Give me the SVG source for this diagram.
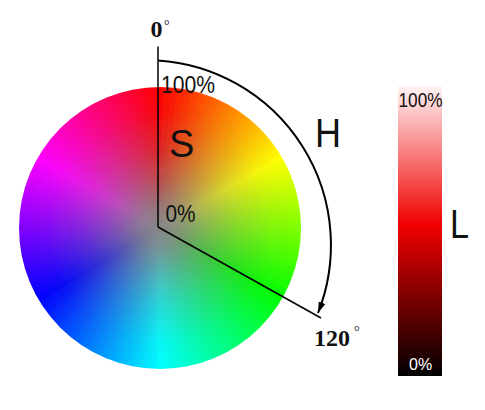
<svg xmlns="http://www.w3.org/2000/svg" width="485" height="410" viewBox="0 0 485 410">
<style>
.sans{font-family:"Liberation Sans",Arial,sans-serif;fill:#111}
.deg{font-family:"Liberation Serif","Times New Roman",serif;font-weight:bold;font-size:24px;fill:#111}
.degs{font-size:14px;font-weight:normal}
.ln{stroke:#000;fill:none;stroke-width:1.5}
.arc{stroke:#000;fill:none;stroke-width:2}
</style>
<defs>
<path id="w" d="M0,0L-4.6,-155L4.6,-155Z"/>
<clipPath id="cc"><circle cx="0" cy="0" r="141"/></clipPath>
<filter id="bl" x="-0.1" y="-0.1" width="1.2" height="1.2"><feGaussianBlur stdDeviation="1.5"/></filter>
<radialGradient id="sat" cx="0" cy="0" r="141" gradientUnits="userSpaceOnUse">
<stop offset="0" stop-color="#858585" stop-opacity="1"/>
<stop offset="0.15" stop-color="#858585" stop-opacity="0.85"/>
<stop offset="0.35" stop-color="#858585" stop-opacity="0.55"/>
<stop offset="0.55" stop-color="#858585" stop-opacity="0.3"/>
<stop offset="0.8" stop-color="#858585" stop-opacity="0.08"/>
<stop offset="1" stop-color="#858585" stop-opacity="0"/>
</radialGradient>
<linearGradient id="lg" x1="0" y1="0" x2="0" y2="1">
<stop offset="0" stop-color="#fff4f4"/>
<stop offset="0.48" stop-color="#f00000"/>
<stop offset="1" stop-color="#000"/>
</linearGradient>
<marker id="ah" markerUnits="userSpaceOnUse" markerWidth="12" markerHeight="8" refX="11" refY="4" orient="auto">
<path d="M0,0.5L11,4L0,7.5Z" fill="#000"/>
</marker>
</defs>

<g id="hue-wheel">
<g transform="translate(160,228)" clip-path="url(#cc)">
<g filter="url(#bl)">
<use href="#w" transform="rotate(0)" fill="hsl(0,100%,50%)"/>
<use href="#w" transform="rotate(3)" fill="hsl(3,100%,50%)"/>
<use href="#w" transform="rotate(6)" fill="hsl(6,100%,50%)"/>
<use href="#w" transform="rotate(9)" fill="hsl(9,100%,50%)"/>
<use href="#w" transform="rotate(12)" fill="hsl(12,100%,50%)"/>
<use href="#w" transform="rotate(15)" fill="hsl(15,100%,50%)"/>
<use href="#w" transform="rotate(18)" fill="hsl(18,100%,50%)"/>
<use href="#w" transform="rotate(21)" fill="hsl(21,100%,50%)"/>
<use href="#w" transform="rotate(24)" fill="hsl(24,100%,50%)"/>
<use href="#w" transform="rotate(27)" fill="hsl(27,100%,50%)"/>
<use href="#w" transform="rotate(30)" fill="hsl(30,100%,50%)"/>
<use href="#w" transform="rotate(33)" fill="hsl(33,100%,50%)"/>
<use href="#w" transform="rotate(36)" fill="hsl(36,100%,50%)"/>
<use href="#w" transform="rotate(39)" fill="hsl(39,100%,50%)"/>
<use href="#w" transform="rotate(42)" fill="hsl(42,100%,50%)"/>
<use href="#w" transform="rotate(45)" fill="hsl(45,100%,50%)"/>
<use href="#w" transform="rotate(48)" fill="hsl(48,100%,50%)"/>
<use href="#w" transform="rotate(51)" fill="hsl(51,100%,50%)"/>
<use href="#w" transform="rotate(54)" fill="hsl(54,100%,50%)"/>
<use href="#w" transform="rotate(57)" fill="hsl(57,100%,50%)"/>
<use href="#w" transform="rotate(60)" fill="hsl(60,100%,50%)"/>
<use href="#w" transform="rotate(63)" fill="hsl(63,100%,50%)"/>
<use href="#w" transform="rotate(66)" fill="hsl(66,100%,50%)"/>
<use href="#w" transform="rotate(69)" fill="hsl(69,100%,50%)"/>
<use href="#w" transform="rotate(72)" fill="hsl(72,100%,50%)"/>
<use href="#w" transform="rotate(75)" fill="hsl(75,100%,50%)"/>
<use href="#w" transform="rotate(78)" fill="hsl(78,100%,50%)"/>
<use href="#w" transform="rotate(81)" fill="hsl(81,100%,50%)"/>
<use href="#w" transform="rotate(84)" fill="hsl(84,100%,50%)"/>
<use href="#w" transform="rotate(87)" fill="hsl(87,100%,50%)"/>
<use href="#w" transform="rotate(90)" fill="hsl(90,100%,50%)"/>
<use href="#w" transform="rotate(93)" fill="hsl(93,100%,50%)"/>
<use href="#w" transform="rotate(96)" fill="hsl(96,100%,50%)"/>
<use href="#w" transform="rotate(99)" fill="hsl(99,100%,50%)"/>
<use href="#w" transform="rotate(102)" fill="hsl(102,100%,50%)"/>
<use href="#w" transform="rotate(105)" fill="hsl(105,100%,50%)"/>
<use href="#w" transform="rotate(108)" fill="hsl(108,100%,50%)"/>
<use href="#w" transform="rotate(111)" fill="hsl(111,100%,50%)"/>
<use href="#w" transform="rotate(114)" fill="hsl(114,100%,50%)"/>
<use href="#w" transform="rotate(117)" fill="hsl(117,100%,50%)"/>
<use href="#w" transform="rotate(120)" fill="hsl(120,100%,50%)"/>
<use href="#w" transform="rotate(123)" fill="hsl(123,100%,50%)"/>
<use href="#w" transform="rotate(126)" fill="hsl(126,100%,50%)"/>
<use href="#w" transform="rotate(129)" fill="hsl(129,100%,50%)"/>
<use href="#w" transform="rotate(132)" fill="hsl(132,100%,50%)"/>
<use href="#w" transform="rotate(135)" fill="hsl(135,100%,50%)"/>
<use href="#w" transform="rotate(138)" fill="hsl(138,100%,50%)"/>
<use href="#w" transform="rotate(141)" fill="hsl(141,100%,50%)"/>
<use href="#w" transform="rotate(144)" fill="hsl(144,100%,50%)"/>
<use href="#w" transform="rotate(147)" fill="hsl(147,100%,50%)"/>
<use href="#w" transform="rotate(150)" fill="hsl(150,100%,50%)"/>
<use href="#w" transform="rotate(153)" fill="hsl(153,100%,50%)"/>
<use href="#w" transform="rotate(156)" fill="hsl(156,100%,50%)"/>
<use href="#w" transform="rotate(159)" fill="hsl(159,100%,50%)"/>
<use href="#w" transform="rotate(162)" fill="hsl(162,100%,50%)"/>
<use href="#w" transform="rotate(165)" fill="hsl(165,100%,50%)"/>
<use href="#w" transform="rotate(168)" fill="hsl(168,100%,50%)"/>
<use href="#w" transform="rotate(171)" fill="hsl(171,100%,50%)"/>
<use href="#w" transform="rotate(174)" fill="hsl(174,100%,50%)"/>
<use href="#w" transform="rotate(177)" fill="hsl(177,100%,50%)"/>
<use href="#w" transform="rotate(180)" fill="hsl(180,100%,50%)"/>
<use href="#w" transform="rotate(183)" fill="hsl(183,100%,50%)"/>
<use href="#w" transform="rotate(186)" fill="hsl(186,100%,50%)"/>
<use href="#w" transform="rotate(189)" fill="hsl(189,100%,50%)"/>
<use href="#w" transform="rotate(192)" fill="hsl(192,100%,50%)"/>
<use href="#w" transform="rotate(195)" fill="hsl(195,100%,50%)"/>
<use href="#w" transform="rotate(198)" fill="hsl(198,100%,50%)"/>
<use href="#w" transform="rotate(201)" fill="hsl(201,100%,50%)"/>
<use href="#w" transform="rotate(204)" fill="hsl(204,100%,50%)"/>
<use href="#w" transform="rotate(207)" fill="hsl(207,100%,50%)"/>
<use href="#w" transform="rotate(210)" fill="hsl(210,100%,50%)"/>
<use href="#w" transform="rotate(213)" fill="hsl(213,100%,50%)"/>
<use href="#w" transform="rotate(216)" fill="hsl(216,100%,50%)"/>
<use href="#w" transform="rotate(219)" fill="hsl(219,100%,50%)"/>
<use href="#w" transform="rotate(222)" fill="hsl(222,100%,50%)"/>
<use href="#w" transform="rotate(225)" fill="hsl(225,100%,50%)"/>
<use href="#w" transform="rotate(228)" fill="hsl(228,100%,50%)"/>
<use href="#w" transform="rotate(231)" fill="hsl(231,100%,50%)"/>
<use href="#w" transform="rotate(234)" fill="hsl(234,100%,50%)"/>
<use href="#w" transform="rotate(237)" fill="hsl(237,100%,50%)"/>
<use href="#w" transform="rotate(240)" fill="hsl(240,100%,50%)"/>
<use href="#w" transform="rotate(243)" fill="hsl(243,100%,50%)"/>
<use href="#w" transform="rotate(246)" fill="hsl(246,100%,50%)"/>
<use href="#w" transform="rotate(249)" fill="hsl(249,100%,50%)"/>
<use href="#w" transform="rotate(252)" fill="hsl(252,100%,50%)"/>
<use href="#w" transform="rotate(255)" fill="hsl(255,100%,50%)"/>
<use href="#w" transform="rotate(258)" fill="hsl(258,100%,50%)"/>
<use href="#w" transform="rotate(261)" fill="hsl(261,100%,50%)"/>
<use href="#w" transform="rotate(264)" fill="hsl(264,100%,50%)"/>
<use href="#w" transform="rotate(267)" fill="hsl(267,100%,50%)"/>
<use href="#w" transform="rotate(270)" fill="hsl(270,100%,50%)"/>
<use href="#w" transform="rotate(273)" fill="hsl(273,100%,50%)"/>
<use href="#w" transform="rotate(276)" fill="hsl(276,100%,50%)"/>
<use href="#w" transform="rotate(279)" fill="hsl(279,100%,50%)"/>
<use href="#w" transform="rotate(282)" fill="hsl(282,100%,50%)"/>
<use href="#w" transform="rotate(285)" fill="hsl(285,100%,50%)"/>
<use href="#w" transform="rotate(288)" fill="hsl(288,100%,50%)"/>
<use href="#w" transform="rotate(291)" fill="hsl(291,100%,50%)"/>
<use href="#w" transform="rotate(294)" fill="hsl(294,100%,50%)"/>
<use href="#w" transform="rotate(297)" fill="hsl(297,100%,50%)"/>
<use href="#w" transform="rotate(300)" fill="hsl(300,100%,50%)"/>
<use href="#w" transform="rotate(303)" fill="hsl(303,100%,50%)"/>
<use href="#w" transform="rotate(306)" fill="hsl(306,100%,50%)"/>
<use href="#w" transform="rotate(309)" fill="hsl(309,100%,50%)"/>
<use href="#w" transform="rotate(312)" fill="hsl(312,100%,50%)"/>
<use href="#w" transform="rotate(315)" fill="hsl(315,100%,50%)"/>
<use href="#w" transform="rotate(318)" fill="hsl(318,100%,50%)"/>
<use href="#w" transform="rotate(321)" fill="hsl(321,100%,50%)"/>
<use href="#w" transform="rotate(324)" fill="hsl(324,100%,50%)"/>
<use href="#w" transform="rotate(327)" fill="hsl(327,100%,50%)"/>
<use href="#w" transform="rotate(330)" fill="hsl(330,100%,50%)"/>
<use href="#w" transform="rotate(333)" fill="hsl(333,100%,50%)"/>
<use href="#w" transform="rotate(336)" fill="hsl(336,100%,50%)"/>
<use href="#w" transform="rotate(339)" fill="hsl(339,100%,50%)"/>
<use href="#w" transform="rotate(342)" fill="hsl(342,100%,50%)"/>
<use href="#w" transform="rotate(345)" fill="hsl(345,100%,50%)"/>
<use href="#w" transform="rotate(348)" fill="hsl(348,100%,50%)"/>
<use href="#w" transform="rotate(351)" fill="hsl(351,100%,50%)"/>
<use href="#w" transform="rotate(354)" fill="hsl(354,100%,50%)"/>
<use href="#w" transform="rotate(357)" fill="hsl(357,100%,50%)"/>
</g>
<circle cx="0" cy="0" r="141" fill="url(#sat)"/>
</g>
</g>

<g id="lightness-bar">
<rect x="398" y="86" width="44" height="290" fill="url(#lg)"/>
<text class="sans" x="398.5" y="107" font-size="20" textLength="44" lengthAdjust="spacingAndGlyphs" fill="#222">100%</text>
<text class="sans" x="409" y="370" font-size="16" style="fill:#fff">0%</text>
</g>

<g id="connectors">
<line class="ln" x1="158" y1="46.5" x2="158" y2="227"/>
<line class="ln" x1="158" y1="227" x2="321" y2="318"/>
<path class="arc" d="M158,60.4A185,185 0 0 1 318,313" marker-end="url(#ah)"/>
</g>

<g id="labels">
<text class="deg" x="150.5" y="37">0<tspan class="degs" dx="1.5" dy="-7">°</tspan></text>
<text class="deg" x="314" y="345.5">120<tspan class="degs" dx="4" dy="-9.5">°</tspan></text>
<text class="sans" x="161" y="93" font-size="24" textLength="54" lengthAdjust="spacingAndGlyphs">100%</text>
<text class="sans" x="165.5" y="221.5" font-size="23" textLength="30" lengthAdjust="spacingAndGlyphs">0%</text>
<text class="sans" x="169" y="156.5" font-size="38">S</text>
<text class="sans" x="315" y="146.5" font-size="40" textLength="26" lengthAdjust="spacingAndGlyphs">H</text>
<text class="sans" x="450" y="238.3" font-size="41" textLength="19" lengthAdjust="spacingAndGlyphs">L</text>
</g>
</svg>
